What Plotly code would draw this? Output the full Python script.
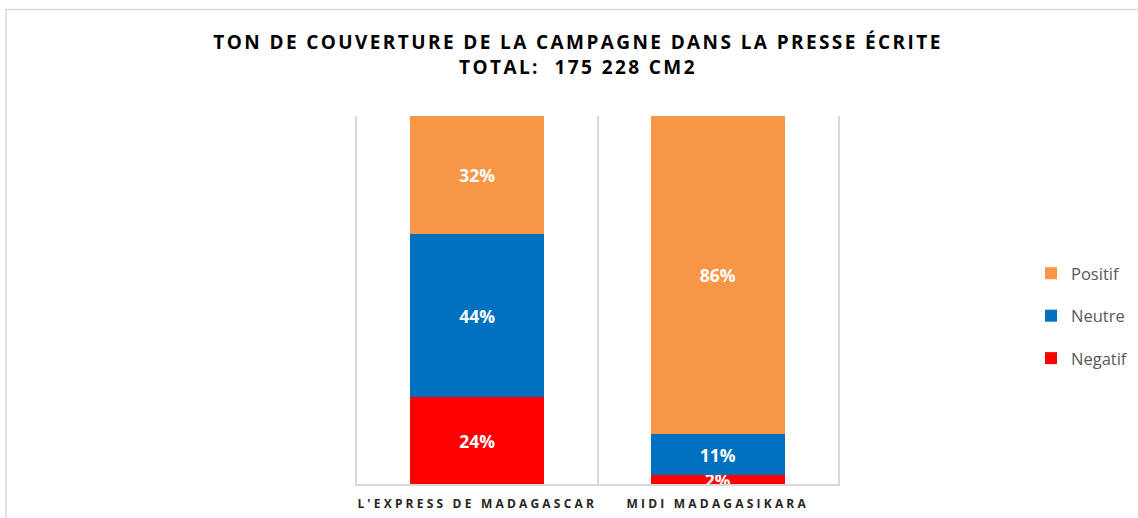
import plotly.graph_objects as go

categories = ["L'EXPRESS DE MADAGASCAR", "MIDI MADAGASIKARA"]
negatif = [23.6, 2.4]
neutre = [44.3, 11.2]
positif = [32.1, 86.4]
series_names = ["Negatif", "Neutre", "Positif"]
series_colors = ["#FF0000", "#0070C0", "#F79646"]
legend_ranks = [3, 2, 1]

title_line1 = "TON DE COUVERTURE DE LA CAMPAGNE DANS LA PRESSE ÉCRITE"
title_line2 = "TOTAL:  175 228 CM2"

W, H = 1138, 518
L, R, T, B = 357, 838, 116, 484

fig = go.Figure()
for name, vals, col, rk in zip(series_names, [negatif, neutre, positif], series_colors, legend_ranks):
    fig.add_trace(go.Bar(
        x=categories, y=vals, name=name, marker=dict(color=col, line=dict(width=0)),
        texttemplate="%{y:.0f}%", textposition="inside", insidetextanchor="middle",
        constraintext="none",
        textfont=dict(family="Open Sans", size=17.5, color="white", weight="bold"),
        hoverinfo="skip", legendgroup=name, legendrank=rk,
    ))

ticktext = ['<span style="letter-spacing:3.2px">%s</span>' % c for c in categories]

fig.update_layout(
    width=W, height=H,
    margin=dict(l=L, r=W - R, t=T, b=H - B, autoexpand=False),
    barmode="stack", bargap=0.443,
    paper_bgcolor="white", plot_bgcolor="white",
    font=dict(family="Open Sans", color="#262626"),
    title=dict(
        text='<span style="letter-spacing:2.4px">%s<br>%s</span>' % (title_line1, title_line2),
        x=578 / W, xanchor="center", xref="container",
        y=1 - 49 / H, yanchor="top", yref="container",
        font=dict(family="Open Sans", size=19, color="#000000", weight="bold"),
    ),
    xaxis=dict(
        tickmode="array", tickvals=categories, ticktext=ticktext, tickangle=0,
        tickson="boundaries", showgrid=True, gridcolor="#D9D9D9", gridwidth=1.5,
        showline=True, linecolor="#D9D9D9", linewidth=1.5, ticks="", ticklen=0,
        ticklabelstandoff=8,
        tickfont=dict(family="Open Sans", size=12, color="#262626", weight="bold"),
        fixedrange=True,
    ),
    yaxis=dict(range=[0, 100], showgrid=False, showticklabels=False, zeroline=False,
               showline=True, mirror=True, linecolor="#D9D9D9", linewidth=1.5,
               ticks="", fixedrange=True),
    legend=dict(
        x=(1031 - L) / (R - L), xanchor="left", y=(B - 316) / (B - T), yanchor="middle",
        traceorder="grouped", tracegroupgap=18,
        font=dict(family="Open Sans", size=16.5, color="#595959"),
        bgcolor="rgba(0,0,0,0)",
    ),
    shapes=[dict(
        type="rect", xref="paper", yref="paper",
        x0=(6 - L) / (R - L), x1=(W + 5 - L) / (R - L),
        y0=(B - (H + 5)) / (B - T), y1=(B - 9.5) / (B - T),
        line=dict(color="#D9D9D9", width=1.5), fillcolor="rgba(0,0,0,0)", layer="below",
    )],
    showlegend=True,
)

fig.write_html("out.html", config={"displayModeBar": False},
               post_script="document.body.style.margin='0';")
